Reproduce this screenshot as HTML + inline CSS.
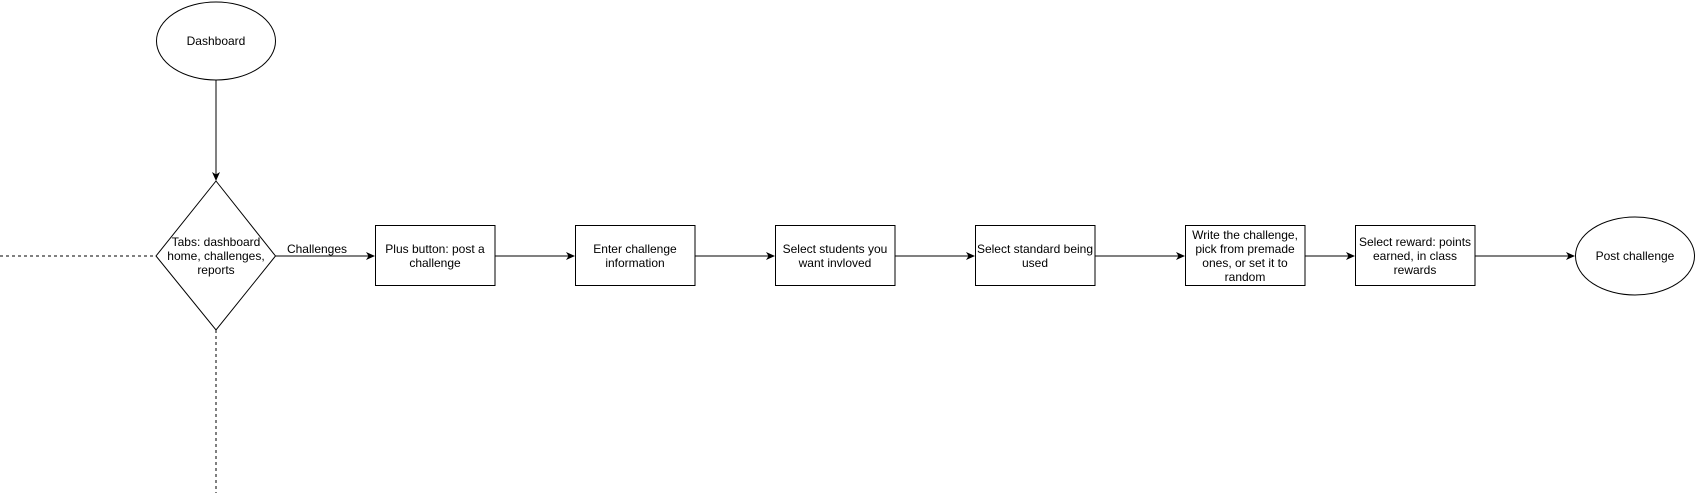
<!DOCTYPE html>
<html><head><meta charset="utf-8"><style>
body{margin:0;background:#fff}
svg text{font-family:"Liberation Sans",Arial,sans-serif;font-size:12px;fill:#000}
</style></head><body>
<svg width="1697" height="493" viewBox="0 0 1697 493" xmlns="http://www.w3.org/2000/svg">
<defs><marker id="a" markerWidth="10" markerHeight="10" refX="8" refY="4" orient="auto" markerUnits="userSpaceOnUse"><path d="M0,0 L9,4 L0,8 L2.5,4 Z" fill="#000"/></marker></defs>
<g fill="#fff" stroke="#000" stroke-width="1">
<ellipse cx="216" cy="41" rx="59.5" ry="39"/>
<polygon points="216,181 275.5,256 216,330 156,256"/>
<rect x="375.5" y="225.5" width="119.5" height="60"/>
<rect x="575.5" y="225.5" width="119.5" height="60"/>
<rect x="775.5" y="225.5" width="119.5" height="60"/>
<rect x="975.5" y="225.5" width="119.5" height="60"/>
<rect x="1185.5" y="225.5" width="119.5" height="60"/>
<rect x="1355.5" y="225.5" width="119.5" height="60"/>
<ellipse cx="1635" cy="256" rx="59.5" ry="39"/>
</g>
<g stroke="#000" stroke-width="1" fill="none">
<line x1="216" y1="80" x2="216" y2="180" marker-end="url(#a)"/>
<line x1="0" y1="256" x2="156" y2="256" stroke-dasharray="3,3"/>
<line x1="216" y1="330" x2="216" y2="493" stroke-dasharray="3,3"/>
<line x1="275.5" y1="256" x2="374" y2="256" marker-end="url(#a)"/>
<line x1="495" y1="256" x2="574" y2="256" marker-end="url(#a)"/>
<line x1="695" y1="256" x2="774" y2="256" marker-end="url(#a)"/>
<line x1="895" y1="256" x2="974" y2="256" marker-end="url(#a)"/>
<line x1="1095" y1="256" x2="1184" y2="256" marker-end="url(#a)"/>
<line x1="1305" y1="256" x2="1354" y2="256" marker-end="url(#a)"/>
<line x1="1475" y1="256" x2="1574" y2="256" marker-end="url(#a)"/>
</g>
<g text-anchor="middle">
<text x="216" y="45">Dashboard</text>
<text x="216" y="246">Tabs: dashboard</text>
<text x="216" y="260">home, challenges,</text>
<text x="216" y="274">reports</text>
<rect x="287" y="242" width="60" height="12" fill="#fff"/>
<text x="317" y="253">Challenges</text>
<text x="435" y="253">Plus button: post a</text>
<text x="435" y="267">challenge</text>
<text x="635" y="253">Enter challenge</text>
<text x="635" y="267">information</text>
<text x="835" y="253">Select students you</text>
<text x="835" y="267">want invloved</text>
<text x="1035" y="253">Select standard being</text>
<text x="1035" y="267">used</text>
<text x="1245" y="239">Write the challenge,</text>
<text x="1245" y="253">pick from premade</text>
<text x="1245" y="267">ones, or set it to</text>
<text x="1245" y="281">random</text>
<text x="1415" y="246">Select reward: points</text>
<text x="1415" y="260">earned, in class</text>
<text x="1415" y="274">rewards</text>
<text x="1635" y="260">Post challenge</text>
</g>
</svg>
</body></html>
